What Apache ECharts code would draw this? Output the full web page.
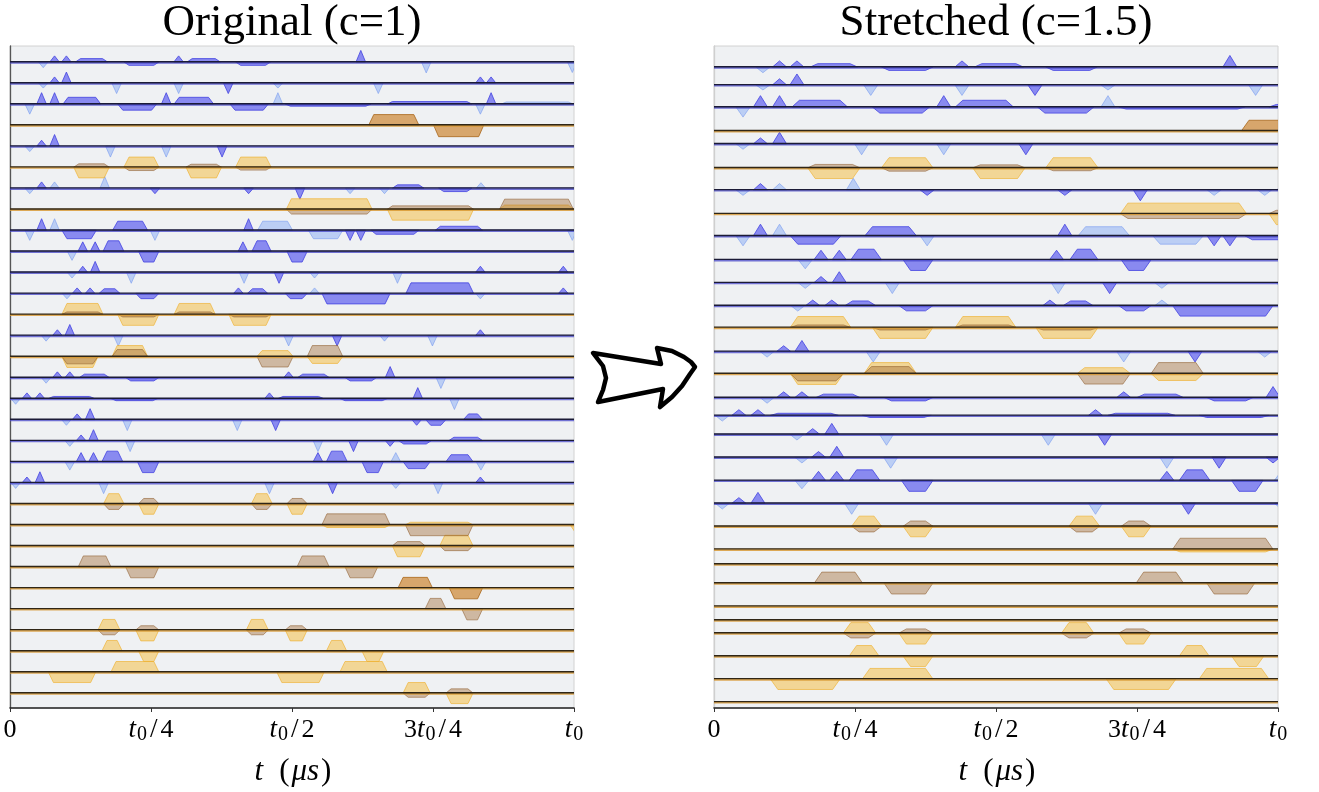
<!DOCTYPE html>
<html><head><meta charset="utf-8">
<script src="https://cdn.jsdelivr.net/npm/echarts@6/dist/echarts.min.js"></script>
<style>html,body{margin:0;padding:0;background:#fff}#c{width:1319px;height:792px}</style>
</head><body><div id="c"></div>
<script>
// ---------------- data ----------------
const panelTitles = ['Original (c=1)', 'Stretched (c=1.5)'];
const tickLabels = ['0', '{i|t}{s|0}{sl|/}4', '{i|t}{s|0}{sl|/}2', '3{i|t}{s|0}{sl|/}4', '{i|t}{s|0}'];
const tickFractions = [0, 0.25, 0.5, 0.75, 1];
// portion of the original time axis visible in the stretched panel
const rightWindow = 0.68;
// channel kinds: b = blue, o = orange
const rowKinds = ['b','b','b','o','b','o','b','o','b','b','b','b','o','b','o','b','b','b','b','b','b',
                  'o','o','o','o','o','o','o','o','o','o'];
const leftRowLevels = [0,-1,-2,-3,-4,-5,-6,-7,-8,-9,-10,-11,-12,-13,-14,-15,-16,-17,-18,-19,-20,
                       -21,-22,-23,-24,-25,-26,-27,-28,-29,-30];
const rightRowLevels = [-0.24,-1.09,-2.14,-3.27,-3.89,-5.03,-6.08,-7.21,-8.26,-9.40,-10.49,-11.58,-12.62,
                        -13.76,-14.81,-15.95,-16.80,-17.70,-18.79,-19.89,-20.98,-22.07,-23.16,-23.87,
                        -24.77,-25.87,-26.53,-27.15,-28.24,-29.33,-30.42];
// spikes: [row, centre time (t0), amplitude (row units, + above / - below)]
const darkSpikes = [
 [0,0.079,0.29],[0,0.100,0.29],[0,0.299,0.29],[0,0.622,0.55],
 [1,0.079,0.29],[1,0.100,0.52],[1,0.387,-0.5],[1,0.834,0.29],[1,0.853,0.29],
 [2,0.056,0.54],[2,0.079,0.54],[2,0.277,0.54],[2,0.853,0.54],
 [4,0.056,0.28],[4,0.079,0.55],[4,0.376,-0.52],
 [6,0.056,0.3],[6,0.257,-0.26],[6,0.423,-0.26],[6,0.514,-0.52],
 [8,0.056,0.55],[8,0.423,0.55],[8,0.603,-0.48],[8,0.622,-0.48],
 [9,0.129,0.45],[9,0.151,0.45],[9,0.413,0.45],
 [10,0.129,0.29],[10,0.151,0.52],[10,0.477,-0.52],[10,0.834,0.29],[10,0.981,0.29],
 [11,0.119,0.26],[11,0.142,0.26],[11,0.405,0.26],[11,0.981,0.26],
 [13,0.084,0.27],[13,0.106,0.52],[13,0.580,-0.5],[13,0.834,0.27],
 [15,0.084,0.27],[15,0.106,0.27],[15,0.494,0.27],[15,0.674,0.52],
 [16,0.030,0.27],[16,0.053,0.27],[16,0.460,0.27],[16,0.723,0.52],
 [17,0.119,0.27],[17,0.142,0.52],[17,0.471,-0.52],[17,0.721,-0.27],
 [18,0.126,0.27],[18,0.148,0.52],[18,0.609,-0.52],[18,0.674,-0.27],
 [19,0.126,0.43],[19,0.148,0.43],[19,0.546,0.43],
 [20,0.030,0.27],[20,0.053,0.52],[20,0.572,-0.52],[20,0.834,0.27]
];
const lightSpikes = [
 [0,0.059,-0.27],[0,0.738,-0.52],[0,0.997,-0.5],
 [1,0.059,-0.24],[1,0.189,-0.5],[1,0.299,-0.5],[1,0.475,-0.24],[1,0.653,-0.5],
 [2,0.035,-0.48],[2,0.475,0.54],[2,0.834,-0.48],
 [4,0.035,-0.26],[4,0.178,-0.52],[4,0.277,-0.52],
 [6,0.035,-0.26],[6,0.079,0.3],[6,0.168,0.55],[6,0.603,-0.26],[6,0.664,-0.26],[6,0.835,0.26],
 [8,0.035,-0.48],[8,0.079,0.55],[8,0.257,-0.48],[8,0.997,-0.48],
 [9,0.110,-0.43],
 [10,0.110,-0.27],[10,0.215,-0.52],[10,0.415,-0.52],[10,0.540,-0.27],[10,0.687,-0.52],
 [11,0.101,-0.26],[11,0.540,0.26],[11,0.834,-0.26],
 [13,0.064,-0.27],[13,0.192,-0.5],[13,0.494,-0.5],[13,0.664,-0.27],[13,0.749,-0.5],
 [15,0.064,-0.27],[15,0.764,-0.52],
 [16,0.010,-0.27],[16,0.788,-0.52],
 [17,0.100,-0.27],[17,0.208,-0.52],[17,0.403,-0.52],
 [18,0.106,-0.27],[18,0.213,-0.52],[18,0.546,-0.52],
 [19,0.106,-0.4],[19,0.684,0.43],[19,0.835,-0.4],
 [20,0.010,-0.27],[20,0.166,-0.52],[20,0.460,-0.52],[20,0.684,-0.27],[20,0.759,-0.52]
];
// pulses: [row, start, end, amplitude]
const darkPulses = [
 [0,0.116,0.173,0.16],[0,0.202,0.264,-0.16],[0,0.314,0.373,0.16],[0,0.400,0.462,-0.16],
 [2,0.094,0.161,0.32],[2,0.191,0.260,-0.29],[2,0.291,0.361,0.32],[2,0.390,0.458,-0.29],[2,0.488,0.640,-0.1],[2,0.669,0.819,0.12],
 [6,0.678,0.734,0.16],[6,0.760,0.819,-0.16],
 [8,0.092,0.153,-0.4],[8,0.182,0.244,0.43],[8,0.640,0.725,-0.19],[8,0.754,0.838,0.19],
 [9,0.165,0.202,0.5],[9,0.228,0.264,-0.51],[9,0.429,0.463,0.5],[9,0.491,0.527,-0.51],
 [11,0.158,0.195,0.22],[11,0.223,0.264,-0.25],[11,0.421,0.457,0.22],[11,0.488,0.527,-0.25],[11,0.553,0.674,-0.5],[11,0.702,0.822,0.5],
 [15,0.123,0.176,0.16],[15,0.205,0.264,-0.16],[15,0.510,0.566,0.16],[15,0.594,0.650,-0.16],
 [16,0.068,0.150,0.1],[16,0.179,0.262,-0.1],[16,0.475,0.556,0.1],[16,0.585,0.669,-0.1],
 [17,0.737,0.773,-0.27],[17,0.804,0.838,0.27],
 [18,0.689,0.747,-0.16],[18,0.778,0.838,0.16],
 [19,0.163,0.200,0.5],[19,0.226,0.264,-0.52],[19,0.561,0.598,0.5],[19,0.624,0.662,-0.52],[19,0.697,0.745,-0.33],[19,0.773,0.821,0.33]
];
const lightPulses = [[2,0.871,0.999,0.1],[8,0.439,0.501,0.43],[8,0.529,0.590,-0.4]];
const goldPulses = [
 [5,0.113,0.176,-0.51],[5,0.202,0.264,0.48],[5,0.312,0.375,-0.51],[5,0.400,0.463,0.48],
 [7,0.490,0.642,0.5],[7,0.669,0.822,-0.52],[7,0.868,0.999,0.2],
 [12,0.092,0.165,0.52],[12,0.191,0.264,-0.52],[12,0.291,0.364,0.52],[12,0.388,0.463,-0.52],
 [14,0.092,0.156,-0.52],[14,0.181,0.244,0.52],[14,0.438,0.502,0.28],[14,0.527,0.590,-0.33],
 [21,0.166,0.202,0.48],[21,0.228,0.264,-0.5],[21,0.428,0.465,0.48],[21,0.491,0.527,-0.5],
 [22,0.553,0.674,-0.13],[22,0.701,0.821,0.12],[22,0.993,1.05,-0.35],
 [23,0.678,0.736,-0.52],[23,0.762,0.821,0.5],
 [27,0.156,0.195,0.5],[27,0.223,0.264,-0.52],[27,0.419,0.458,0.5],[27,0.488,0.527,-0.52],
 [28,0.163,0.199,0.5],[28,0.228,0.264,-0.5],[28,0.561,0.597,0.5],[28,0.624,0.663,-0.5],
 [29,0.068,0.152,-0.5],[29,0.179,0.264,0.5],[29,0.473,0.557,-0.5],[29,0.585,0.669,0.5],
 [30,0.697,0.745,0.5],[30,0.773,0.821,-0.5]
];
const tanPulses = [
 [5,0.113,0.176,0.16],[5,0.202,0.264,-0.16],[5,0.312,0.375,0.14],[5,0.400,0.463,-0.14],
 [7,0.490,0.642,-0.23],[7,0.669,0.822,0.16],[7,0.868,0.999,0.48],
 [12,0.092,0.165,0.12],[12,0.191,0.264,-0.12],[12,0.291,0.364,0.12],[12,0.388,0.463,-0.12],
 [14,0.092,0.156,-0.35],[14,0.181,0.244,0.33],[14,0.438,0.502,-0.5],[14,0.527,0.590,0.52],
 [21,0.166,0.202,-0.27],[21,0.228,0.264,0.25],[21,0.428,0.465,-0.27],[21,0.491,0.527,0.25],
 [22,0.553,0.674,0.52],[22,0.701,0.821,-0.52],
 [23,0.678,0.736,0.2],[23,0.762,0.821,-0.23],
 [24,0.121,0.179,0.52],[24,0.205,0.264,-0.52],[24,0.509,0.566,0.52],[24,0.594,0.652,-0.52],
 [26,0.736,0.773,0.5],[26,0.801,0.838,-0.52],
 [27,0.156,0.195,-0.23],[27,0.223,0.264,0.2],[27,0.419,0.458,-0.23],[27,0.488,0.527,0.2],
 [30,0.697,0.745,-0.2],[30,0.773,0.821,0.2]
];
const amberPulses = [[3,0.636,0.725,0.5],[3,0.751,0.840,-0.55],[25,0.688,0.749,0.5],[25,0.779,0.838,-0.52]];

// ---------------- styling ----------------
const SERIF = "'Liberation Serif','DejaVu Serif',serif";
const SPIKE_HALF = 0.0085, RAMP = 0.009;
const kindStyles = {
  dark:  {fill:'rgba(80,80,238,0.64)',  stroke:'rgba(66,66,225,0.8)'},
  light: {fill:'rgba(130,165,245,0.47)',stroke:'rgba(120,155,240,0.6)'},
  gold:  {fill:'rgba(246,190,66,0.52)', stroke:'rgba(238,176,48,0.65)'},
  tan:   {fill:'rgba(160,105,50,0.42)', stroke:'rgba(140,90,40,0.55)'},
  amber: {fill:'rgba(200,120,25,0.62)', stroke:'rgba(165,98,20,0.75)'}
};
const lineStyles = {b:{under:'rgba(70,70,200,0.75)', over:'#1b1b36'}, o:{under:'rgba(215,150,45,0.8)', over:'#2f2616'}};

const panels = [
  {left:10,  levels:leftRowLevels,  xmax:1, ycol:'#555'},
  {left:714, levels:rightRowLevels, xmax:rightWindow, ycol:'#cfcfcf'}
];
const YMAX = 0.76, YMIN = -30.71;

function pulseSeries(list, kind, p, pi, isSpike) {
  const lv = p.levels;
  const data = list.map(d => isSpike ? [d[1]-SPIKE_HALF, d[1]+SPIKE_HALF, lv[d[0]], d[2]] : [d[1], d[2], lv[d[0]], d[3]]);
  const st = kindStyles[kind];
  return {
    type:'custom', xAxisIndex:pi, yAxisIndex:pi, clip:true, z:2, silent:true,
    encode:{x:[0,1], y:2}, data,
    renderItem:(params, api) => {
      const s = api.value(0), e = api.value(1), lvl = api.value(2), amp = api.value(3);
      const r = isSpike ? SPIKE_HALF : Math.min(RAMP, (e-s)/2);
      const pts = [[s,lvl],[s+r,lvl+amp],[e-r,lvl+amp],[e,lvl]].map(q => api.coord(q));
      return {type:'polygon', shape:{points:pts}, style:{fill:st.fill, stroke:st.stroke, lineWidth:1}};
    }
  };
}
function baselineSeries(p, pi) {
  const data = p.levels.map((lv, i) => [0, p.xmax, lv, i]);
  return {
    type:'custom', xAxisIndex:pi, yAxisIndex:pi, clip:true, z:5, silent:true,
    encode:{x:[0,1], y:2}, data,
    renderItem:(params, api) => {
      const a = api.coord([api.value(0), api.value(2)]);
      const b = api.coord([api.value(1), api.value(2)]);
      const ls = lineStyles[rowKinds[api.value(3)]];
      return {type:'group', children:[
        {type:'line', shape:{x1:a[0], y1:a[1]+0.6, x2:b[0], y2:b[1]+0.6}, style:{stroke:ls.under, lineWidth:2.2}},
        {type:'line', shape:{x1:a[0], y1:a[1]-0.3, x2:b[0], y2:b[1]-0.3}, style:{stroke:ls.over, lineWidth:1.4}}
      ]};
    }
  };
}

const grids = [], xAxes = [], yAxes = [], series = [];
panels.forEach((p, pi) => {
  grids.push({left:p.left, top:46, width:564, height:663, show:true, backgroundColor:'#eff1f3', borderColor:'#d2d2d2', borderWidth:1});
  const ticks = tickFractions.map(f => f * p.xmax);
  xAxes.push({
    gridIndex:pi, type:'value', min:0, max:p.xmax,
    axisLine:{show:true, onZero:false, lineStyle:{color:'#222', width:1.6}},
    axisTick:{show:true, length:4, customValues:ticks, lineStyle:{color:'#333'}},
    splitLine:{show:false},
    axisLabel:{customValues:ticks, margin:7, color:'#000', fontFamily:SERIF, fontSize:26, lineHeight:30,
      formatter:(v) => tickLabels[Math.round(v / p.xmax * 4)],
      rich:{i:{fontStyle:'italic', fontFamily:SERIF, fontSize:27, lineHeight:30, color:'#000', padding:[0,1,0,0]},
            s:{fontFamily:SERIF, fontSize:20, lineHeight:22, verticalAlign:'bottom', color:'#000'},
            sl:{fontFamily:SERIF, fontSize:27, lineHeight:30, color:'#000', padding:[0,3,0,3]}}},
    name:'{i|t}({i|μs})', nameLocation:'middle', nameGap:48,
    nameTextStyle:{color:'#000', fontFamily:SERIF, fontSize:31,
      rich:{i:{fontStyle:'italic', fontFamily:SERIF, fontSize:31, color:'#000', padding:[0,2,0,2]}}}
  });
  yAxes.push({gridIndex:pi, type:'value', min:YMIN, max:YMAX,
    axisLine:{show:true, onZero:false, lineStyle:{color:p.ycol, width:1.3}},
    axisTick:{show:false}, axisLabel:{show:false}, splitLine:{show:false}});
  series.push(pulseSeries(lightPulses, 'light', p, pi, false));
  series.push(pulseSeries(lightSpikes, 'light', p, pi, true));
  series.push(pulseSeries(darkPulses, 'dark', p, pi, false));
  series.push(pulseSeries(darkSpikes, 'dark', p, pi, true));
  series.push(pulseSeries(goldPulses, 'gold', p, pi, false));
  series.push(pulseSeries(tanPulses, 'tan', p, pi, false));
  series.push(pulseSeries(amberPulses, 'amber', p, pi, false));
  series.push(baselineSeries(p, pi));
});
// fix the name so that t and the bracket are separated like the reference
xAxes.forEach(a => { a.name = '{i|t}{gap| }({i|μs})'; a.nameTextStyle.rich.gap = {fontSize:31, width:14}; });

// outline arrow between the panels (decoration)
const arrowOutline = [[593,353],[661,364],[657,348],[672,351],[684,357],[691,362],[695,367],[690,374],
  [682,386],[672,397],[660,407],[663,389],[598,402],[603,390],[606,378],[603,366]];

const chart = echarts.init(document.getElementById('c'), null, {renderer:'canvas'});
chart.setOption({
  animation:false,
  backgroundColor:'#ffffff',
  grid:grids, xAxis:xAxes, yAxis:yAxes, series,
  graphic:[
    {type:'text', x:292, y:23, style:{text:panelTitles[0], fontFamily:SERIF, fontSize:45, fill:'#000', align:'center', verticalAlign:'middle'}},
    {type:'text', x:996, y:23, style:{text:panelTitles[1], fontFamily:SERIF, fontSize:45, fill:'#000', align:'center', verticalAlign:'middle'}},
    {type:'polygon', shape:{points:arrowOutline}, style:{fill:'#fff', stroke:'#000', lineWidth:4.5, lineJoin:'round'}}
  ]
});
</script></body></html>
